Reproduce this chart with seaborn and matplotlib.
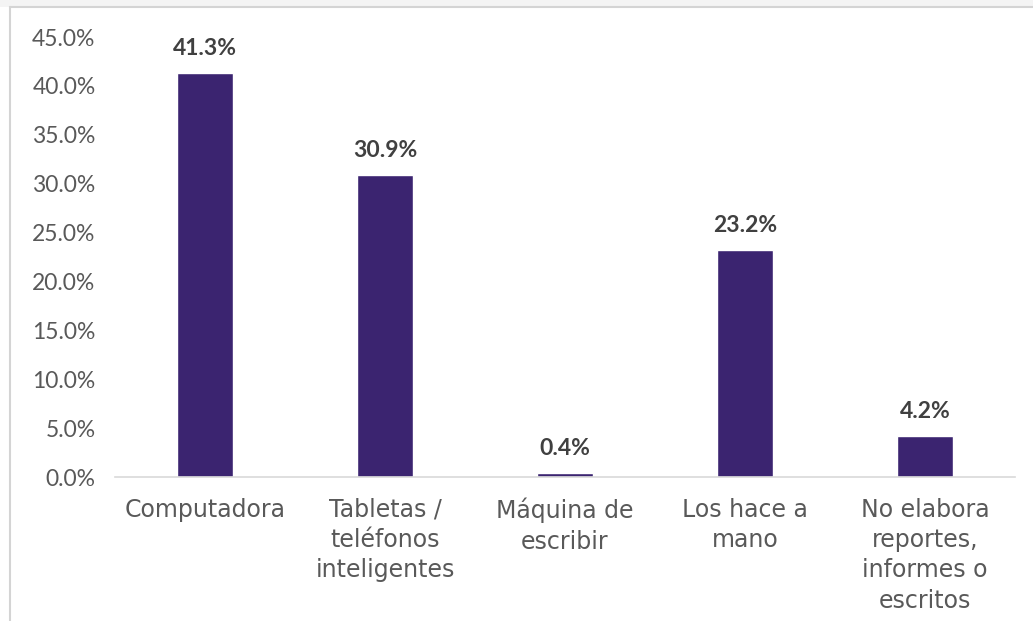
import matplotlib
matplotlib.use("Agg")
import matplotlib.pyplot as plt
import seaborn as sns
import pandas as pd
from matplotlib.patches import Rectangle
from matplotlib.lines import Line2D

categorias = [
    "Computadora",
    "Tabletas /\nteléfonos\ninteligentes",
    "Máquina de\nescribir",
    "Los hace a\nmano",
    "No elabora\nreportes,\ninformes o\nescritos",
]
porcentajes = [41.3, 30.9, 0.4, 23.2, 4.2]
ticks_y = [0, 5, 10, 15, 20, 25, 30, 35, 40, 45]

sns.set_theme(style="white")
plt.rcParams["font.family"] = ["Lato", "DejaVu Sans"]

W, H = 1033, 621
fig = plt.figure(figsize=(W / 100, H / 100), dpi=100)
fig.patch.set_facecolor("white")

# light band above the chart frame and the frame lines
fig.add_artist(Rectangle((0, 1 - 7 / H), 1, 7 / H, transform=fig.transFigure,
                         facecolor="#f4f4f4", edgecolor="none"))
fig.add_artist(Line2D([10 / W, 1], [1 - 7 / H, 1 - 7 / H], transform=fig.transFigure,
                      color="#d4d4d4", lw=1.5))
fig.add_artist(Line2D([10 / W, 10 / W], [0, 1 - 7 / H], transform=fig.transFigure,
                      color="#d4d4d4", lw=1.5))

ax = fig.add_axes([115 / W, (H - 477) / H, 900 / W, (477 - 37) / H])
df = pd.DataFrame({"cat": categorias, "val": porcentajes})
sns.barplot(data=df, x="cat", y="val", color="#3b2470", saturation=1,
            width=0.31, ax=ax)

ax.set_ylim(0, 45)
ax.set_xlim(-0.5, len(categorias) - 0.5)
ax.set_yticks(ticks_y)
ax.set_yticklabels([f"{t:.1f}%" for t in ticks_y], color="#595959", fontsize=16.5)
ax.tick_params(axis="y", length=0, pad=14)
ax.tick_params(axis="x", length=0, pad=15)
for lbl in ax.get_xticklabels():
    lbl.set_fontfamily(["DejaVu Sans"])
    lbl.set_fontsize(17)
    lbl.set_color("#595959")
    lbl.set_linespacing(1.33)
ax.set_xlabel("")
ax.set_ylabel("")
for s in ["top", "right", "left"]:
    ax.spines[s].set_visible(False)
ax.spines["bottom"].set_color("#d9d9d9")
ax.spines["bottom"].set_linewidth(1.2)

for i, v in enumerate(porcentajes):
    ax.annotate(f"{v:.1f}%", (i, v), xytext=(0, 10), textcoords="offset points",
                ha="center", va="bottom", fontsize=16.5, fontweight="bold",
                color="#404040")

fig.savefig("out.png", dpi=100)
